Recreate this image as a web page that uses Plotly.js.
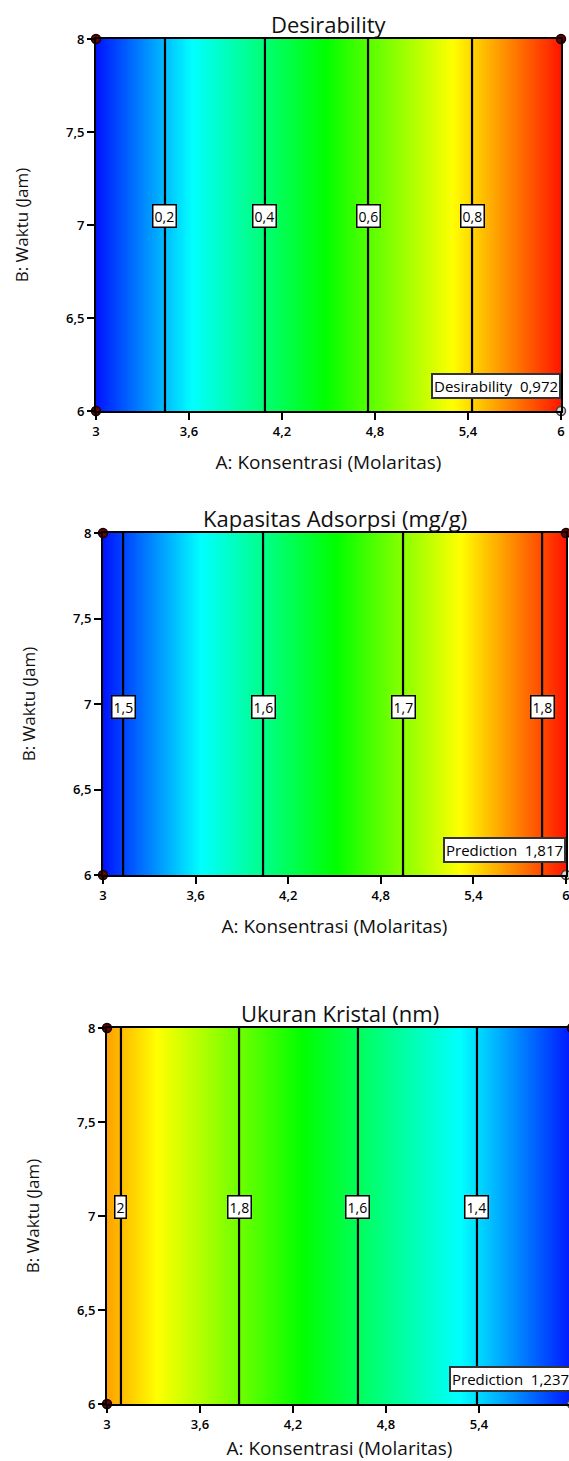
<!DOCTYPE html>
<html>
<head>
<meta charset="utf-8">
<script src="https://cdn.plot.ly/plotly-3.0.1.min.js"></script>
<style>
html,body{margin:0;padding:0;overflow:hidden;background:#fff;}
#chart{width:580px;height:1461px;}
</style>
</head>
<body>
<div id="chart"></div>
<script>
// ---- Data ----
const timeB = [6, 8];                       // B: Waktu (Jam)
// Panel 1: Desirability
const desA = [3, 3.445, 4.09, 4.755, 5.426, 6];
const desVal = [0.062, 0.2, 0.4, 0.6, 0.8, 0.972];
const desLevels = [0.2, 0.4, 0.6, 0.8];
const desLevelText = ['0,2', '0,4', '0,6', '0,8'];
// Panel 2: Kapasitas Adsorpsi (mg/g)
const kapA = [3, 3.13, 4.037, 4.944, 5.845, 6];
const kapVal = [1.486, 1.5, 1.6, 1.7, 1.8, 1.817];
const kapLevels = [1.5, 1.6, 1.7, 1.8];
const kapLevelText = ['1,5', '1,6', '1,7', '1,8'];
// Panel 3: Ukuran Kristal (nm)
const ukA = [3, 3.09, 3.852, 4.619, 5.387, 6];
const ukVal = [2.023, 2.0, 1.8, 1.6, 1.4, 1.237];
const ukLevels = [2.0, 1.8, 1.6, 1.4];
const ukLevelText = ['2', '1,8', '1,6', '1,4'];
// Design points (corners) and current prediction point
const designA = [3, 6, 3];
const designB = [8, 8, 6];
const predA = [6];
const predB = [6];
// Tick labels
const xTickVals = [3, 3.6, 4.2, 4.8, 5.4, 6];
const xTickText = ['3', '3,6', '4,2', '4,8', '5,4', '6'];
const xTickText3 = ['3', '3,6', '4,2', '4,8', '5,4', ''];   // last label lies off the page in panel 3
const yTickVals = [6, 6.5, 7, 7.5, 8];
const yTickText = ['6', '6,5', '7', '7,5', '8'];
const titles = ['Desirability', 'Kapasitas Adsorpsi (mg/g)', 'Ukuran Kristal (nm)'];
const predLabels = ['Desirability', 'Prediction', 'Prediction'];

// ---- Layout geometry ----
const W = 580, H = 1461;
const FONT = 'Open Sans, Noto Sans, sans-serif';
const panels = [
  {A: desA, V: desVal, lv: desLevels, lt: desLevelText, zmin: 0.062, zmax: 0.972, start: 0.2, end: 0.8, size: 0.2,
   l: 96, r: 561, t: 39, b: 411, labY: 7.05, tt: xTickText},
  {A: kapA, V: kapVal, lv: kapLevels, lt: kapLevelText, zmin: 1.486, zmax: 1.817, start: 1.5, end: 1.8, size: 0.1,
   l: 103, r: 566, t: 533, b: 875, labY: 6.98, tt: xTickText},
  {A: ukA, V: ukVal, lv: ukLevels, lt: ukLevelText, zmin: 1.237, zmax: 2.15, start: 1.4, end: 2.0, size: 0.2,
   l: 107, r: 572, t: 1028, b: 1404, labY: 7.05, tt: xTickText3}
];
const cscale = [
  [0, 'rgb(0,20,255)'], [0.21, 'rgb(0,255,255)'], [0.5, 'rgb(0,255,0)'],
  [0.77, 'rgb(255,255,0)'], [1, 'rgb(255,20,0)']
];

const traces = [];
const annotations = [];
const layout = {
  width: W, height: H, showlegend: false,
  margin: {l: 0, r: 0, t: 0, b: 0},
  paper_bgcolor: '#fff', plot_bgcolor: '#fff',
  font: {family: FONT, color: '#111'},
  annotations: annotations
};

panels.forEach((p, i) => {
  const xn = i === 0 ? 'x' : 'x' + (i + 1);
  const yn = i === 0 ? 'y' : 'y' + (i + 1);
  const xk = i === 0 ? 'xaxis' : 'xaxis' + (i + 1);
  const yk = i === 0 ? 'yaxis' : 'yaxis' + (i + 1);
  traces.push({
    type: 'contour', x: p.A, y: timeB, z: [p.V, p.V], xaxis: xn, yaxis: yn,
    colorscale: cscale, zmin: p.zmin, zmax: p.zmax, zauto: false, showscale: false,
    contours: {coloring: 'heatmap', start: p.start, end: p.end, size: p.size, showlabels: false},
    line: {color: '#000', width: 2.2, smoothing: 0}, hoverinfo: 'skip'
  });
  traces.push({
    type: 'scatter', mode: 'markers', x: designA, y: designB, xaxis: xn, yaxis: yn, cliponaxis: false,
    marker: {size: 9, color: '#6b0000', line: {color: '#1a0000', width: 1.5}}, hoverinfo: 'skip'
  });
  traces.push({
    type: 'scatter', mode: 'markers', x: predA, y: predB, xaxis: xn, yaxis: yn, cliponaxis: false,
    marker: {size: 9, color: '#d8d8d8', line: {color: '#444', width: 1.5}}, hoverinfo: 'skip'
  });
  layout[xk] = {
    domain: [p.l / W, p.r / W], range: [3, 6], anchor: yn,
    showgrid: false, zeroline: false, showline: true, mirror: true, linecolor: '#000', linewidth: 2,
    ticks: 'outside', ticklen: 7, tickwidth: 2, tickcolor: '#000',
    tickmode: 'array', tickvals: xTickVals, ticktext: p.tt,
    tickfont: {family: FONT, size: 13, color: '#000', weight: 600},
    title: {text: 'A: Konsentrasi (Molaritas)', font: {family: FONT, size: 19, color: '#111'}, standoff: 17}
  };
  layout[yk] = {
    domain: [(H - p.b) / H, (H - p.t) / H], range: [6, 8], anchor: xn,
    showgrid: false, zeroline: false, showline: true, mirror: true, linecolor: '#000', linewidth: 2,
    ticks: 'outside', ticklen: 7, tickwidth: 2, tickcolor: '#000',
    tickmode: 'array', tickvals: yTickVals, ticktext: yTickText,
    tickfont: {family: FONT, size: 13, color: '#000', weight: 600},
    title: {text: 'B: Waktu (Jam)', font: {family: FONT, size: 17, color: '#111'}, standoff: 33}
  };
  // panel title
  annotations.push({
    xref: 'paper', yref: 'paper', x: (p.l + p.r) / 2 / W, y: (H - p.t) / H,
    xanchor: 'center', yanchor: 'bottom', yshift: -2, showarrow: false,
    text: titles[i], font: {family: FONT, size: 22, color: '#111'}
  });
  // contour level labels
  p.lv.forEach((lev, k) => {
    annotations.push({
      xref: xn, yref: yn, x: p.A[p.V.indexOf(lev)], y: p.labY, showarrow: false,
      text: p.lt[k], font: {family: FONT, size: 14, color: '#000'},
      bgcolor: '#fff', bordercolor: '#000', borderwidth: 1.5, borderpad: 1
    });
  });
  // prediction flag
  const last = p.V[p.V.length - 1];
  annotations.push({
    xref: xn, yref: yn, x: 6, y: 6, xanchor: 'right', yanchor: 'bottom', yshift: 12, xshift: 0,
    showarrow: false,
    text: predLabels[i] + '&nbsp;&nbsp;' + last.toFixed(3).replace('.', ','),
    font: {family: FONT, size: 15, color: '#000'},
    bgcolor: '#fff', bordercolor: '#333', borderwidth: 2, borderpad: 1
  });
});

Plotly.newPlot('chart', traces, layout, {staticPlot: true});
</script>
</body>
</html>
